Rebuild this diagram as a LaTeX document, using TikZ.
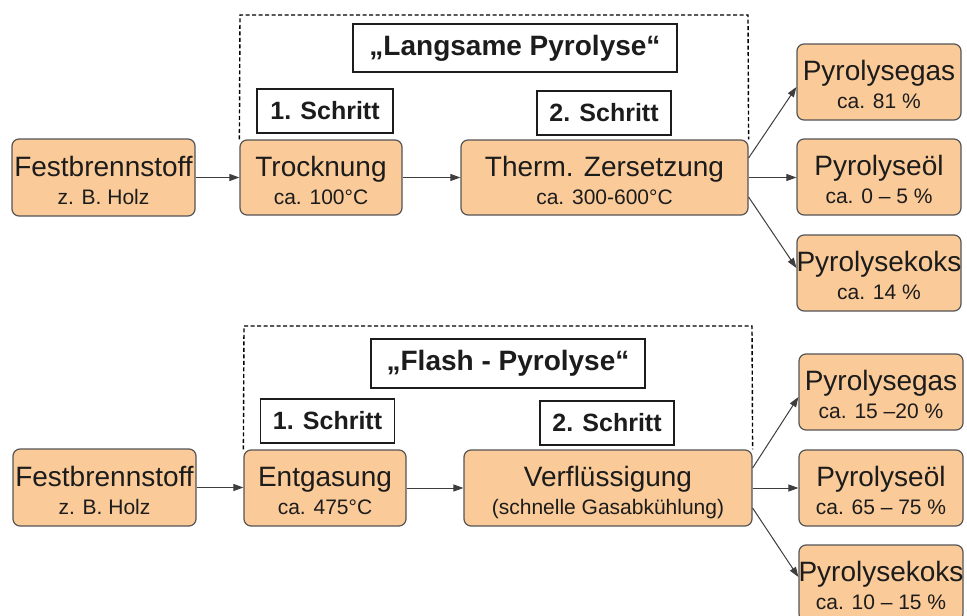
\documentclass[tikz,border=0pt]{standalone}
\usepackage{fontspec}
\setmainfont{Liberation Sans}
\usetikzlibrary{arrows.meta}
\definecolor{peach}{RGB}{250,202,152}
\definecolor{edge}{RGB}{85,85,85}
\definecolor{ink}{RGB}{28,28,28}
\tikzset{
  proc/.style={draw=edge, fill=peach, rounded corners=7pt, line width=1.2pt, inner sep=0pt},
  bigt/.style={inner sep=0pt, text=ink, font=\fontsize{28}{30}\selectfont},
  smallt/.style={inner sep=0pt, text=ink, font=\fontsize{21}{23}\selectfont},
  titlebox/.style={draw=ink, fill=white, line width=1.2pt, inner sep=0pt, text=ink, font=\bfseries\fontsize{28}{30}\selectfont},
  stepbox/.style={draw=ink, fill=white, line width=1.2pt, inner sep=0pt, text=ink, font=\bfseries\fontsize{25}{27}\selectfont},
  frame/.style={draw=black, line width=1.4pt, dash pattern=on 4pt off 2.5pt},
  arr/.style={draw=ink!85, line width=1pt, -{Triangle[length=10pt,width=7pt]}}
}
\newcommand{\procbox}[7]{%
  \node[proc, minimum width=#4pt, minimum height=#5pt] (#1) at (#2,#3) {};
  \node[bigt, anchor=base] (#1-a) at ([yshift=1.5pt]#1.center) {#6};
  \node[smallt, anchor=base] (#1-b) at ([yshift=-26.5pt]#1.center) {#7};
}
\begin{document}
\begin{tikzpicture}[x=1pt,y=-1pt]
\useasboundingbox (0,0) rectangle (967,616);
\fill[white] (0,0) rectangle (967,616);

% ---------- top row ----------
\procbox{fb1}{103.5}{177.5}{183}{77}{Festbrennstoff}{z. B. Holz}
\procbox{tr}{321}{177.5}{162}{75}{Trocknung}{ca. 100°C}
\procbox{tz}{604.5}{177.5}{287}{75}{Therm. Zersetzung}{ca. 300-600°C}
\procbox{gas1}{879}{82}{164}{76}{Pyrolysegas}{ca. 81 \%}
\procbox{oel1}{879}{177}{164}{76}{Pyrolyseöl}{ca. 0 – 5 \%}
\procbox{koks1}{879}{273}{164}{76}{Pyrolysekoks}{ca. 14 \%}

\node[titlebox, minimum width=324pt, minimum height=48pt] (t1) at (515,48) {„Langsame Pyrolyse“};
\node[stepbox, minimum width=136pt, minimum height=44pt] (s1a) at (325,111) {1. Schritt};
\node[stepbox, minimum width=134pt, minimum height=44pt] (s2a) at (604,113) {2. Schritt};

\coordinate (f1l) at (240,15);
\coordinate (f1r) at (748,15);
\draw[frame] (tr.north west) -- (f1l) -- (f1r) -- (tz.north east);

\draw[arr] (fb1.east) -- (fb1.east -| tr.west);
\draw[arr] (tr.east) -- (tr.east -| tz.west);
\draw[arr] ([yshift=19.5pt]tz.east) -- ([yshift=-5pt]gas1.west);
\draw[arr] (tz.east) -- (tz.east -| oel1.west);
\draw[arr] ([yshift=-19.5pt]tz.east) -- ([yshift=5pt]koks1.west);

% ---------- bottom row ----------
\procbox{fb2}{104.5}{487.5}{183}{77}{Festbrennstoff}{z. B. Holz}
\procbox{ent}{325}{488}{162}{76}{Entgasung}{ca. 475°C}
\procbox{ver}{608}{488}{288}{76}{Verflüssigung}{(schnelle Gasabkühlung)}
\procbox{gas2}{881}{392}{164}{76}{Pyrolysegas}{ca. 15 –20 \%}
\procbox{oel2}{881}{488}{164}{76}{Pyrolyseöl}{ca. 65 – 75 \%}
\procbox{koks2}{881}{583}{164}{76}{Pyrolysekoks}{ca. 10 – 15 \%}

\node[titlebox, minimum width=274pt, minimum height=49pt] (t2) at (508,363.5) {„Flash - Pyrolyse“};
\node[stepbox, minimum width=134pt, minimum height=44pt] (s1b) at (327.5,421) {1. Schritt};
\node[stepbox, minimum width=134pt, minimum height=44pt] (s2b) at (607,423) {2. Schritt};

\coordinate (f2l) at (244,326);
\coordinate (f2r) at (752,326);
\draw[frame] (ent.north west) -- (f2l) -- (f2r) -- (ver.north east);

\draw[arr] (fb2.east) -- (fb2.east -| ent.west);
\draw[arr] (ent.east) -- (ent.east -| ver.west);
\draw[arr] ([yshift=20pt]ver.east) -- ([yshift=-5pt]gas2.west);
\draw[arr] (ver.east) -- (ver.east -| oel2.west);
\draw[arr] ([yshift=-20pt]ver.east) -- ([yshift=6pt]koks2.west);
\end{tikzpicture}
\end{document}
